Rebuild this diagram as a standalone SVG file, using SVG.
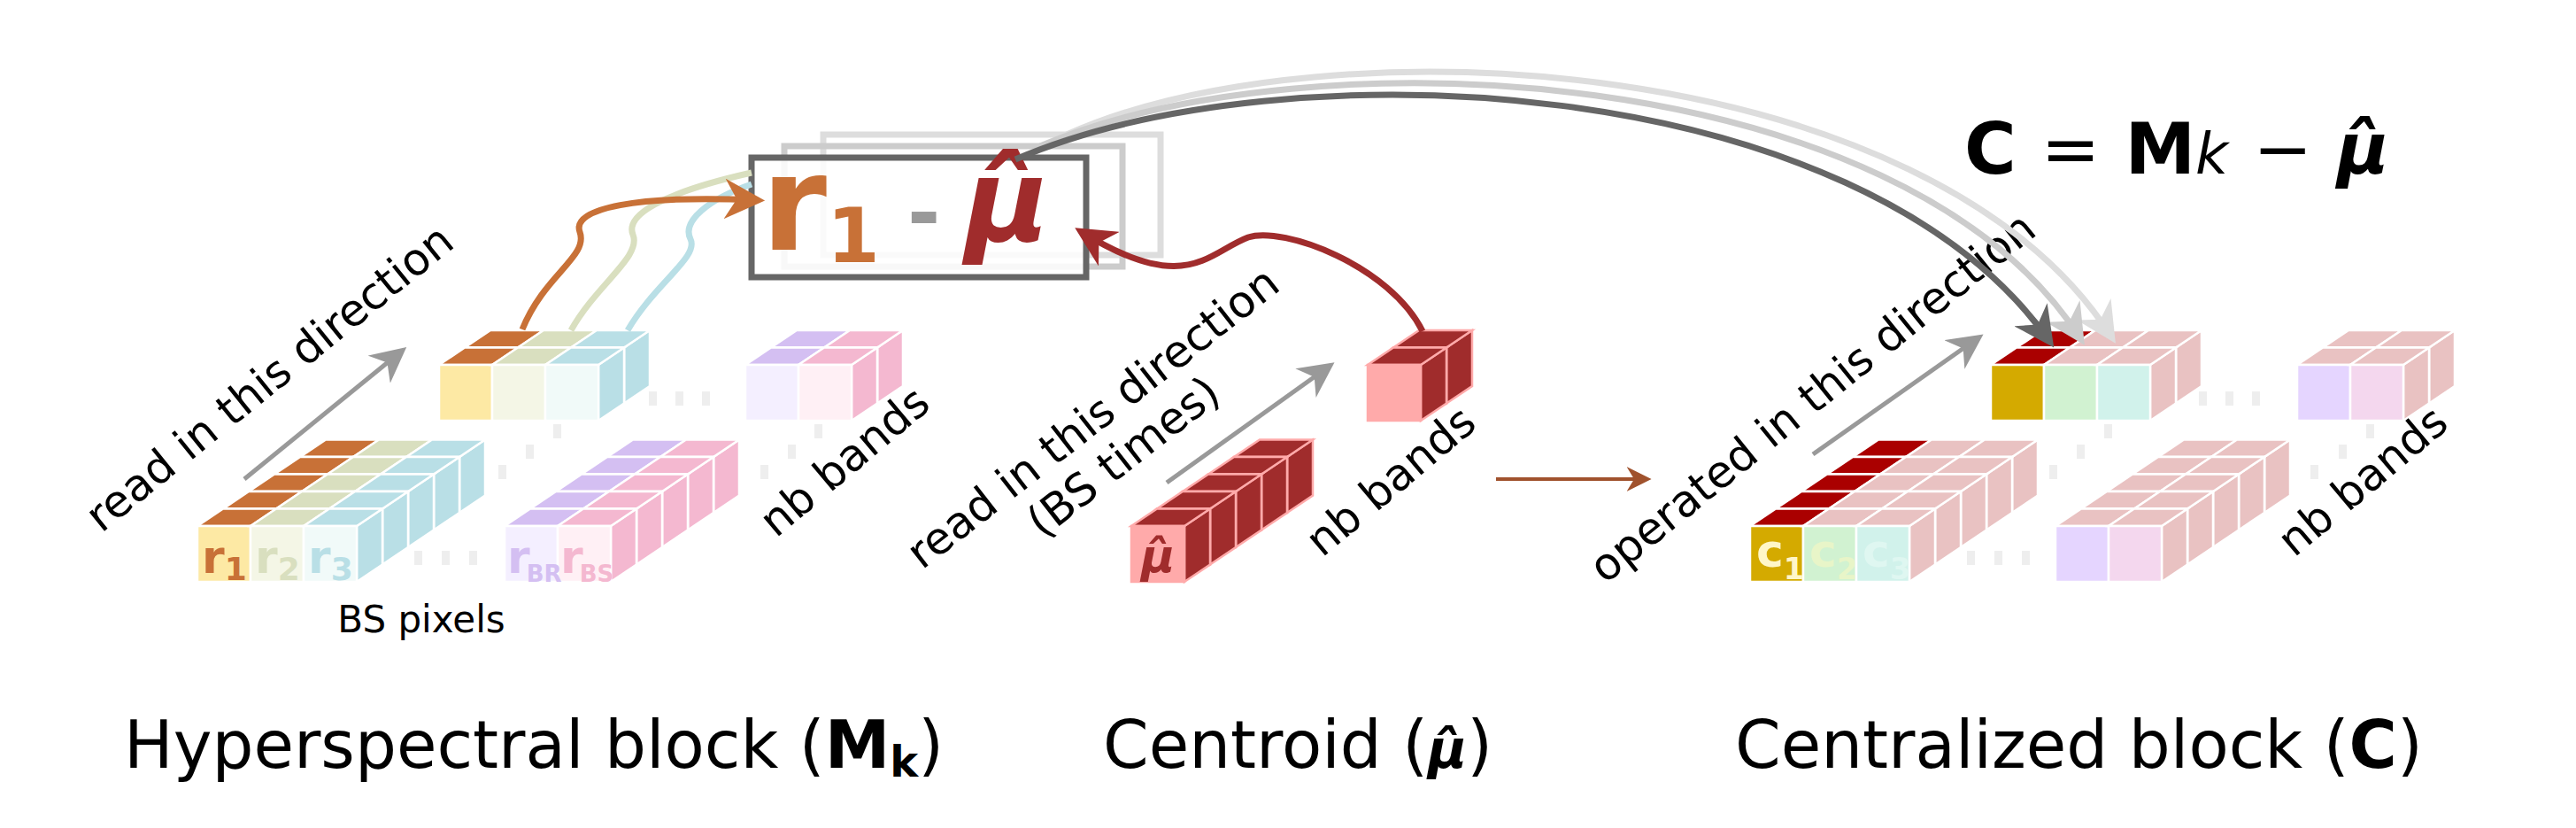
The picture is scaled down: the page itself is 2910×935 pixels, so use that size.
<svg xmlns="http://www.w3.org/2000/svg" width="2910" height="935" viewBox="0 0 2910 935">
<style>
text{font-family:"DejaVu Sans",sans-serif;fill:#000}
.f{fill:var(--f)}.t{fill:var(--t)}.s{fill:var(--s)}
.cb polygon,.cb rect{stroke:var(--k,#fff);stroke-width:2.5}
.lbl{font-size:50px}
.big{font-size:74px}
.dot{fill:#eee}
</style>
<defs>
<g id="cube" class="cb">
<polygon class="s" points="60,0 89,-19.5 89,43.5 60,63"/>
<polygon class="t" points="0,0 29,-19.5 89,-19.5 60,0"/>
<rect class="f" x="0" y="0" width="60" height="63"/>
</g>
<marker id="ah" viewBox="0 0 10 10" refX="8" refY="5" markerWidth="6.5" markerHeight="6.5" orient="auto" markerUnits="strokeWidth"><path d="M0,0 L10,5 L0,10 L3,5 z" fill="context-stroke"/></marker>
<marker id="ahg" viewBox="0 0 10 10" refX="8" refY="5" markerWidth="8" markerHeight="8" orient="auto" markerUnits="strokeWidth"><path d="M0,0 L10,5 L0,10 L3,5 z" fill="context-stroke"/></marker>
<marker id="ahb" viewBox="0 0 10 10" refX="8" refY="5" markerWidth="7" markerHeight="7" orient="auto" markerUnits="strokeWidth"><path d="M0,0 L10,5 L0,10 L3,5 z" fill="context-stroke"/></marker>
</defs>

<g id="box">
<rect x="930" y="152" width="381" height="136" fill="none" stroke="#ddd" stroke-width="7"/>
<rect x="886" y="165" width="382" height="136" fill="none" stroke="#ccc" stroke-width="7"/>
<rect x="849" y="178" width="378" height="135" fill="#fff" fill-opacity="0.85" stroke="#666" stroke-width="7"/>
<text x="860" y="282" font-size="150" font-weight="bold" style="fill:#c87137">r<tspan font-size="86" dy="14">1</tspan></text>
<text x="1025" y="272" font-size="90" font-weight="bold" style="fill:#999">-</text>
<text x="1090" y="272" font-size="130" font-weight="bold" font-style="italic" style="fill:#a02c2c">μ̂</text>
</g>

<g id="equation">
<text x="2219" y="196" font-size="80" font-weight="bold">C <tspan font-weight="normal">=</tspan> M<tspan font-style="italic" font-weight="normal" font-size="64">k</tspan> <tspan font-weight="normal">−</tspan> <tspan font-style="italic">μ̂</tspan></text>
</g>

<g id="hyperspectral">
<use href="#cube" x="525" y="392.5" style="--f:#fde9a4;--t:#c87137;--s:#c87137"/>
<use href="#cube" x="585" y="392.5" style="--f:#f4f6e6;--t:#d9dfbf;--s:#d9dfbf"/>
<use href="#cube" x="645" y="392.5" style="--f:#f1faf9;--t:#b9dfe6;--s:#b9dfe6"/>
<use href="#cube" x="496" y="412" style="--f:#fde9a4;--t:#c87137;--s:#c87137"/>
<use href="#cube" x="556" y="412" style="--f:#f4f6e6;--t:#d9dfbf;--s:#d9dfbf"/>
<use href="#cube" x="616" y="412" style="--f:#f1faf9;--t:#b9dfe6;--s:#b9dfe6"/>
<use href="#cube" x="871" y="392.5" style="--f:#f4efff;--t:#d4bff2;--s:#d4bff2"/>
<use href="#cube" x="931" y="392.5" style="--f:#fff0f5;--t:#f4b8d0;--s:#f4b8d0"/>
<use href="#cube" x="842" y="412" style="--f:#f4efff;--t:#d4bff2;--s:#d4bff2"/>
<use href="#cube" x="902" y="412" style="--f:#fff0f5;--t:#f4b8d0;--s:#f4b8d0"/>

<use href="#cube" x="339" y="516" style="--f:#fde9a4;--t:#c87137;--s:#c87137"/><use href="#cube" x="399" y="516" style="--f:#f4f6e6;--t:#d9dfbf;--s:#d9dfbf"/><use href="#cube" x="459" y="516" style="--f:#b9dfe6;--t:#b9dfe6;--s:#b9dfe6"/>
<use href="#cube" x="310" y="535.5" style="--f:#fde9a4;--t:#c87137;--s:#c87137"/><use href="#cube" x="370" y="535.5" style="--f:#f4f6e6;--t:#d9dfbf;--s:#d9dfbf"/><use href="#cube" x="430" y="535.5" style="--f:#b9dfe6;--t:#b9dfe6;--s:#b9dfe6"/>
<use href="#cube" x="281" y="555" style="--f:#fde9a4;--t:#c87137;--s:#c87137"/><use href="#cube" x="341" y="555" style="--f:#f4f6e6;--t:#d9dfbf;--s:#d9dfbf"/><use href="#cube" x="401" y="555" style="--f:#b9dfe6;--t:#b9dfe6;--s:#b9dfe6"/>
<use href="#cube" x="252" y="574.5" style="--f:#fde9a4;--t:#c87137;--s:#c87137"/><use href="#cube" x="312" y="574.5" style="--f:#f4f6e6;--t:#d9dfbf;--s:#d9dfbf"/><use href="#cube" x="372" y="574.5" style="--f:#b9dfe6;--t:#b9dfe6;--s:#b9dfe6"/>
<use href="#cube" x="223" y="594" style="--f:#fde9a4;--t:#c87137;--s:#c87137"/><use href="#cube" x="283" y="594" style="--f:#f4f6e6;--t:#d9dfbf;--s:#d9dfbf"/><use href="#cube" x="343" y="594" style="--f:#f1faf9;--t:#b9dfe6;--s:#b9dfe6"/>
<use href="#cube" x="686" y="516" style="--f:#f4efff;--t:#d4bff2;--s:#d4bff2"/><use href="#cube" x="746" y="516" style="--f:#f4b8d0;--t:#f4b8d0;--s:#f4b8d0"/>
<use href="#cube" x="657" y="535.5" style="--f:#f4efff;--t:#d4bff2;--s:#d4bff2"/><use href="#cube" x="717" y="535.5" style="--f:#f4b8d0;--t:#f4b8d0;--s:#f4b8d0"/>
<use href="#cube" x="628" y="555" style="--f:#f4efff;--t:#d4bff2;--s:#d4bff2"/><use href="#cube" x="688" y="555" style="--f:#f4b8d0;--t:#f4b8d0;--s:#f4b8d0"/>
<use href="#cube" x="599" y="574.5" style="--f:#f4efff;--t:#d4bff2;--s:#d4bff2"/><use href="#cube" x="659" y="574.5" style="--f:#f4b8d0;--t:#f4b8d0;--s:#f4b8d0"/>
<use href="#cube" x="570" y="594" style="--f:#f4efff;--t:#d4bff2;--s:#d4bff2"/><use href="#cube" x="630" y="594" style="--f:#fff0f5;--t:#f4b8d0;--s:#f4b8d0"/>
<text x="228" y="647" font-size="52" font-weight="bold" style="fill:#c87137">r<tspan font-size="36" dy="8">1</tspan></text>
<text x="288" y="647" font-size="52" font-weight="bold" style="fill:#d9dfbf">r<tspan font-size="36" dy="8">2</tspan></text>
<text x="348" y="647" font-size="52" font-weight="bold" style="fill:#b9dfe6">r<tspan font-size="36" dy="8">3</tspan></text>
<text x="573" y="647" font-size="52" font-weight="bold" style="fill:#d4bff2">r<tspan font-size="26" dy="10" dx="-4">BR</tspan></text>
<text x="633" y="647" font-size="52" font-weight="bold" style="fill:#f4b8d0">r<tspan font-size="26" dy="10" dx="-4">BS</tspan></text>
<rect class="dot" x="468" y="622" width="9" height="16"/><rect class="dot" x="499" y="622" width="9" height="16"/><rect class="dot" x="530" y="622" width="9" height="16"/>
<rect class="dot" x="733" y="442" width="9" height="16"/><rect class="dot" x="763" y="442" width="9" height="16"/><rect class="dot" x="793" y="442" width="9" height="16"/>
<rect class="dot" x="625" y="479" width="9" height="16"/><rect class="dot" x="594" y="502" width="9" height="16"/><rect class="dot" x="563" y="525" width="9" height="16"/>
<rect class="dot" x="920" y="479" width="9" height="16"/><rect class="dot" x="890" y="502" width="9" height="16"/><rect class="dot" x="859" y="525" width="9" height="16"/>
<text x="476" y="714" font-size="42" text-anchor="middle">BS pixels</text>
<text class="lbl" transform="translate(315,440) rotate(-39)" text-anchor="middle">read in this direction</text>
<text class="lbl" transform="translate(965,534) rotate(-40)" text-anchor="middle">nb bands</text>
<text class="big" x="140" y="867">Hyperspectral block (<tspan font-weight="bold">M<tspan font-size="48" dy="10">k</tspan></tspan><tspan dy="-10">)</tspan></text>
</g>

<g id="centroid">
<use href="#cube" x="1574" y="392.5" style="--f:#a02c2c;--t:#a02c2c;--s:#a02c2c;--k:#ffaaaa"/>
<use href="#cube" x="1545" y="412" style="--f:#ffaaaa;--t:#a02c2c;--s:#a02c2c;--k:#ffaaaa"/>
<use href="#cube" x="1394" y="516" style="--f:#a02c2c;--t:#a02c2c;--s:#a02c2c;--k:#ffaaaa"/>
<use href="#cube" x="1365" y="535.5" style="--f:#a02c2c;--t:#a02c2c;--s:#a02c2c;--k:#ffaaaa"/>
<use href="#cube" x="1336" y="555" style="--f:#a02c2c;--t:#a02c2c;--s:#a02c2c;--k:#ffaaaa"/>
<use href="#cube" x="1307" y="574.5" style="--f:#a02c2c;--t:#a02c2c;--s:#a02c2c;--k:#ffaaaa"/>
<use href="#cube" x="1278" y="594" style="--f:#ffaaaa;--t:#a02c2c;--s:#a02c2c;--k:#ffaaaa"/>
<text x="1289" y="646" font-size="52" font-weight="bold" font-style="italic" style="fill:#a02c2c">μ̂</text>
<text class="lbl" transform="translate(1245,485) rotate(-38)" text-anchor="middle">read in this direction<tspan x="0" dy="56">(BS times)</tspan></text>
<text class="lbl" transform="translate(1582,556) rotate(-40)" text-anchor="middle">nb bands</text>
<text class="big" x="1246" y="867">Centroid (<tspan font-weight="bold" font-style="italic" font-size="60">μ̂</tspan>)</text>
</g>

<g id="centralized">
<use href="#cube" x="2278" y="392.5" style="--f:#d4aa00;--t:#aa0000;--s:#aa0000"/>
<use href="#cube" x="2338" y="392.5" style="--f:#d1f2d1;--t:#e9c2c2;--s:#e9c2c2"/>
<use href="#cube" x="2398" y="392.5" style="--f:#e9c2c2;--t:#e9c2c2;--s:#e9c2c2"/>
<use href="#cube" x="2249" y="412" style="--f:#d4aa00;--t:#aa0000;--s:#aa0000"/>
<use href="#cube" x="2309" y="412" style="--f:#d1f2d1;--t:#e9c2c2;--s:#e9c2c2"/>
<use href="#cube" x="2369" y="412" style="--f:#d1f2eb;--t:#e9c2c2;--s:#e9c2c2"/>
<use href="#cube" x="2624" y="392.5" style="--f:#e5d5ff;--t:#e9c2c2;--s:#e9c2c2"/>
<use href="#cube" x="2684" y="392.5" style="--f:#e9c2c2;--t:#e9c2c2;--s:#e9c2c2"/>
<use href="#cube" x="2595" y="412" style="--f:#e5d5ff;--t:#e9c2c2;--s:#e9c2c2"/>
<use href="#cube" x="2655" y="412" style="--f:#f4d7ee;--t:#e9c2c2;--s:#e9c2c2"/>
<use href="#cube" x="2093" y="516" style="--f:#d4aa00;--t:#aa0000;--s:#aa0000"/><use href="#cube" x="2153" y="516" style="--f:#e9c2c2;--t:#e9c2c2;--s:#e9c2c2"/><use href="#cube" x="2213" y="516" style="--f:#e9c2c2;--t:#e9c2c2;--s:#e9c2c2"/>
<use href="#cube" x="2064" y="535.5" style="--f:#d4aa00;--t:#aa0000;--s:#aa0000"/><use href="#cube" x="2124" y="535.5" style="--f:#e9c2c2;--t:#e9c2c2;--s:#e9c2c2"/><use href="#cube" x="2184" y="535.5" style="--f:#e9c2c2;--t:#e9c2c2;--s:#e9c2c2"/>
<use href="#cube" x="2035" y="555" style="--f:#d4aa00;--t:#aa0000;--s:#aa0000"/><use href="#cube" x="2095" y="555" style="--f:#e9c2c2;--t:#e9c2c2;--s:#e9c2c2"/><use href="#cube" x="2155" y="555" style="--f:#e9c2c2;--t:#e9c2c2;--s:#e9c2c2"/>
<use href="#cube" x="2006" y="574.5" style="--f:#d4aa00;--t:#aa0000;--s:#aa0000"/><use href="#cube" x="2066" y="574.5" style="--f:#e9c2c2;--t:#e9c2c2;--s:#e9c2c2"/><use href="#cube" x="2126" y="574.5" style="--f:#e9c2c2;--t:#e9c2c2;--s:#e9c2c2"/>
<use href="#cube" x="1977" y="594" style="--f:#d4aa00;--t:#aa0000;--s:#aa0000"/><use href="#cube" x="2037" y="594" style="--f:#d1f2d1;--t:#e9c2c2;--s:#e9c2c2"/><use href="#cube" x="2097" y="594" style="--f:#d1f2eb;--t:#e9c2c2;--s:#e9c2c2"/>
<use href="#cube" x="2438" y="516" style="--f:#e9c2c2;--t:#e9c2c2;--s:#e9c2c2"/><use href="#cube" x="2498" y="516" style="--f:#e9c2c2;--t:#e9c2c2;--s:#e9c2c2"/>
<use href="#cube" x="2409" y="535.5" style="--f:#e9c2c2;--t:#e9c2c2;--s:#e9c2c2"/><use href="#cube" x="2469" y="535.5" style="--f:#e9c2c2;--t:#e9c2c2;--s:#e9c2c2"/>
<use href="#cube" x="2380" y="555" style="--f:#e9c2c2;--t:#e9c2c2;--s:#e9c2c2"/><use href="#cube" x="2440" y="555" style="--f:#e9c2c2;--t:#e9c2c2;--s:#e9c2c2"/>
<use href="#cube" x="2351" y="574.5" style="--f:#e9c2c2;--t:#e9c2c2;--s:#e9c2c2"/><use href="#cube" x="2411" y="574.5" style="--f:#e9c2c2;--t:#e9c2c2;--s:#e9c2c2"/>
<use href="#cube" x="2322" y="594" style="--f:#e5d5ff;--t:#e9c2c2;--s:#e9c2c2"/><use href="#cube" x="2382" y="594" style="--f:#f4d7ee;--t:#e9c2c2;--s:#e9c2c2"/>
<text x="1984" y="640" font-size="52" font-weight="bold" style="fill:#fff6c8">c<tspan font-size="34" dy="14">1</tspan></text>
<text x="2044" y="640" font-size="52" font-weight="bold" style="fill:#e8f5c8">c<tspan font-size="34" dy="14">2</tspan></text>
<text x="2104" y="640" font-size="52" font-weight="bold" style="fill:#dff7f1">c<tspan font-size="34" dy="14">3</tspan></text>
<rect class="dot" x="2222" y="622" width="9" height="16"/><rect class="dot" x="2253" y="622" width="9" height="16"/><rect class="dot" x="2284" y="622" width="9" height="16"/>
<rect class="dot" x="2484" y="442" width="9" height="16"/><rect class="dot" x="2514" y="442" width="9" height="16"/><rect class="dot" x="2544" y="442" width="9" height="16"/>
<rect class="dot" x="2377" y="479" width="9" height="16"/><rect class="dot" x="2346" y="502" width="9" height="16"/><rect class="dot" x="2315" y="525" width="9" height="16"/>
<rect class="dot" x="2673" y="479" width="9" height="16"/><rect class="dot" x="2642" y="502" width="9" height="16"/><rect class="dot" x="2610" y="525" width="9" height="16"/>
<text class="lbl" transform="translate(2058,462) rotate(-39)" text-anchor="middle">operated in this direction</text>
<text class="lbl" transform="translate(2680,556) rotate(-40)" text-anchor="middle">nb bands</text>
<text class="big" x="1960" y="867">Centralized block (<tspan font-weight="bold">C</tspan>)</text>
</g>

<g id="connectors" fill="none">
<path d="M1205,152 C1500,20 2180,60 2385,380" stroke="#ddd" stroke-width="7" marker-end="url(#ah)"/>
<path d="M1175,165 C1480,35 2150,70 2350,382" stroke="#ccc" stroke-width="7" marker-end="url(#ah)"/>
<path d="M1147,180 C1450,50 2100,80 2315,385" stroke="#666" stroke-width="7" marker-end="url(#ah)"/>
<path d="M276,541 L453,397" stroke="#999" stroke-width="5" marker-end="url(#ahg)"/>
<path d="M1318,545 L1501,414" stroke="#999" stroke-width="5" marker-end="url(#ahg)"/>
<path d="M2048,513 L2234,382" stroke="#999" stroke-width="5" marker-end="url(#ahg)"/>
<path d="M1690,541 L1860,541" stroke="#a0522d" stroke-width="4" marker-end="url(#ahb)"/>
<path d="M709,373 C740,320 790,290 780,270 C770,250 800,225 849,208" stroke="#b9dfe6" stroke-width="7"/>
<path d="M645,373 C675,320 725,290 715,265 C705,240 760,215 849,195" stroke="#d9dfbf" stroke-width="7"/>
<path d="M590,372 C615,310 665,290 655,262 C645,235 720,220 855,226" stroke="#c87137" stroke-width="7" marker-end="url(#ah)"/>
<path d="M1607,374 C1570,300 1450,255 1410,268 C1365,285 1340,335 1222,262" stroke="#a02c2c" stroke-width="7" marker-end="url(#ah)"/>
</g>
</svg>
